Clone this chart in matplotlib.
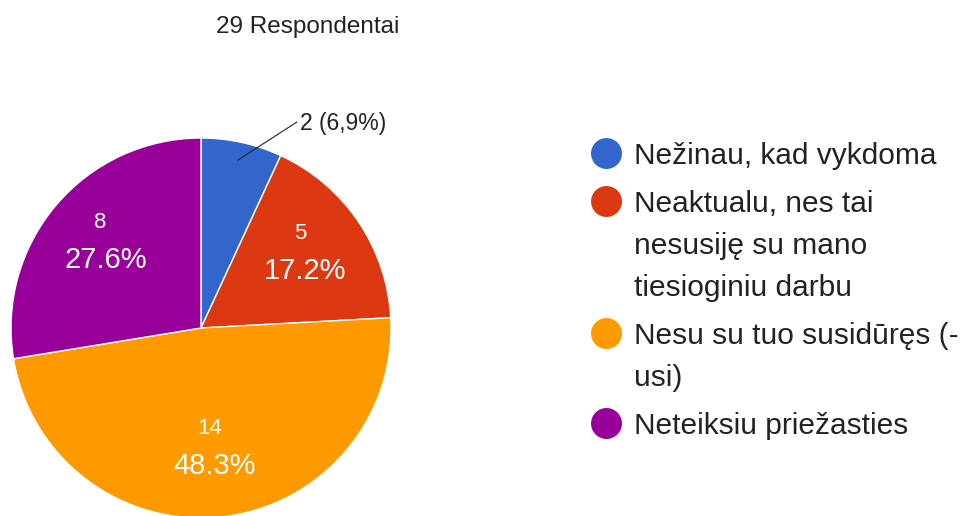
import numpy as np
import matplotlib
matplotlib.use('Agg')
import matplotlib.pyplot as plt
from matplotlib.lines import Line2D

plt.rcParams['font.family'] = ['Liberation Sans', 'DejaVu Sans']

# data
categories = [['Nežinau, kad vykdoma'],
              ['Neaktualu, nes tai', 'nesusiję su mano', 'tiesioginiu darbu'],
              ['Nesu su tuo susidūręs (-', 'usi)'],
              ['Neteiksiu priežasties']]
counts = [2, 5, 14, 8]
colors = ['#3366CC', '#DC3912', '#FF9900', '#990099']
title = '29 Respondentai'

W, H = 970, 516
fig = plt.figure(figsize=(W / 100, H / 100), dpi=100)


def fy(py):
    # pixel row (from top) -> figure fraction
    return 1 - py / H


# pie axes: centre (201, 328) px, radius 190 px
cx, cy, r = 201, 328, 190
ax = fig.add_axes([(cx - r) / W, (H - cy - r) / H, 2 * r / W, 2 * r / H])
wedges, _ = ax.pie(counts, colors=colors, startangle=90, counterclock=False,
                   radius=1, wedgeprops=dict(edgecolor='white', linewidth=1))
ax.set_xlim(-1, 1)
ax.set_ylim(-1, 1)
ax.set_aspect('equal')
ax.axis('off')

px = 1 / r  # one pixel in data units
total = sum(counts)
for w, c in zip(wedges, counts):
    mid = np.deg2rad((w.theta1 + w.theta2) / 2)
    pct = 100 * c / total
    if pct < 10:
        # small slice: leader line + outside label
        x0, y0 = 0.905 * np.cos(mid), 0.905 * np.sin(mid)
        tx, ty = 0.52, 1.089
        ax.plot([x0, tx - 3 * px], [y0, ty - 1 * px], color='#222222',
                lw=0.8, clip_on=False)
        ax.text(tx, ty - 8.5 * px, '%d (%s%%)' % (c, ('%.1f' % pct).replace('.', ',')),
                ha='left', va='baseline', fontsize=16.5, color='#222222')
    else:
        bx, by = 0.66 * np.cos(mid), 0.66 * np.sin(mid) + 8 * px
        # count: centre 19 px above block centre, cap height ~16 px
        ax.text(bx - 5 * px, by + 19 * px - 8 * px, '%d' % c, ha='center',
                va='baseline', fontsize=16, color='white')
        # percentage: centre 18 px below block centre, cap height ~22 px
        ax.text(bx, by - 18 * px - 11 * px, '%.1f%%' % pct, ha='center',
                va='baseline', fontsize=21, color='white')

fig.text(307.5 / W, fy(24 + 8.7), title, ha='center', va='baseline',
         fontsize=17.5, color='#222222')

# legend (y = cap centre of each line, px)
y = 153
for lines, col in zip(categories, colors):
    fig.lines.append(Line2D([606 / W], [fy(y)], transform=fig.transFigure,
                            marker='o', markersize=22.3, markeredgewidth=0,
                            color=col, linestyle='none'))
    for ln in lines:
        fig.text(634 / W, fy(y + 10.5), ln, ha='left', va='baseline',
                 fontsize=21.5, color='#222222')
        y += 42
    y += 6

fig.savefig('out.png', dpi=100)
